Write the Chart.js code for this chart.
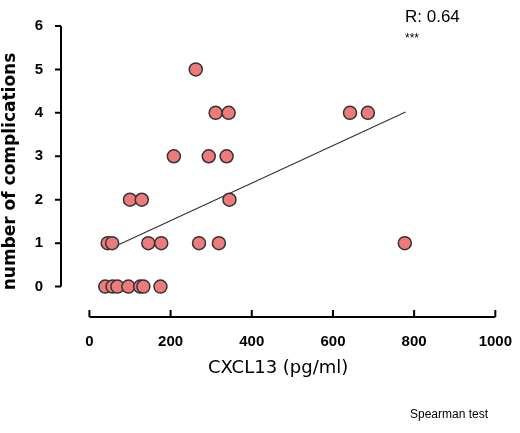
<!DOCTYPE html>
<html>
<head>
<script src="https://cdn.jsdelivr.net/npm/chart.js@4"></script>
<style>body{margin:0;background:#fff}#wrap{width:520px;height:433px;position:relative}</style>
</head>
<body>
<div id="wrap"><canvas id="c" width="520" height="433"></canvas></div>
<script>
const cxcl13 = [39, 57, 69, 96, 125, 133, 175, 45, 56, 145, 177, 270, 319, 777, 100, 129, 345, 208, 294, 338, 311, 343, 642, 686, 262];
const complications = [0, 0, 0, 0, 0, 0, 0, 1, 1, 1, 1, 1, 1, 1, 2, 2, 2, 3, 3, 3, 4, 4, 4, 4, 5];
const fitX = [45, 779];
const fitY = [0.85, 4.02];
const xTicks = [0, 200, 400, 600, 800, 1000];
const yTicks = [0, 1, 2, 3, 4, 5, 6];

const points = cxcl13.map((v, i) => ({x: v, y: complications[i]}));
const fit = fitX.map((v, i) => ({x: v, y: fitY[i]}));

// prism-style detached axes
const axesPlugin = {
    id: 'axes',
    afterDraw(chart) {
        const ctx = chart.ctx, x = chart.scales.x, y = chart.scales.y;
        const ax = chart.chartArea.left, ay = chart.chartArea.bottom;
        ctx.save();
        ctx.strokeStyle = '#000';
        ctx.lineWidth = 2;
        ctx.beginPath();
        ctx.moveTo(ax, y.getPixelForValue(0));
        ctx.lineTo(ax, y.getPixelForValue(6));
        yTicks.forEach(t => { ctx.moveTo(ax, y.getPixelForValue(t)); ctx.lineTo(ax - 6, y.getPixelForValue(t)); });
        ctx.moveTo(x.getPixelForValue(0), ay);
        ctx.lineTo(x.getPixelForValue(1000), ay);
        xTicks.forEach(t => { ctx.moveTo(x.getPixelForValue(t), ay); ctx.lineTo(x.getPixelForValue(t), ay - 7); });
        ctx.stroke();
        ctx.fillStyle = '#000';
        ctx.font = '17px "Liberation Sans", Arial';
        ctx.fillText('R: 0.64', 405, 22);
        ctx.font = '12px "Liberation Sans", Arial';
        ctx.fillText('***', 405, 42);
        ctx.fillText('Spearman test', 410, 418);
        ctx.restore();
    }
};

const tickFont = {size: 15, weight: 'bold', family: '"Liberation Sans", Arial'};

new Chart(document.getElementById('c'), {
    type: 'scatter',
    data: {
        datasets: [{
            data: points,
            backgroundColor: '#ee7b7b',
            borderColor: '#333',
            borderWidth: 1.5,
            pointRadius: 6.5
        }, {
            type: 'line',
            data: fit,
            borderColor: '#333',
            borderWidth: 1.2,
            pointRadius: 0,
            fill: false
        }]
    },
    options: {
        responsive: false,
        animation: false,
        layout: {padding: {top: 26, right: 23, left: 0, bottom: 50}},
        plugins: {legend: {display: false}, tooltip: {enabled: false}},
        scales: {
            x: {
                type: 'linear', min: -70, max: 1000,
                grid: {display: false}, border: {display: false},
                afterBuildTicks: s => { s.ticks = xTicks.map(v => ({value: v})); },
                afterFit: s => { s.height = 66; },
                ticks: {color: '#000', padding: 8, font: tickFont, callback: v => String(v)},
                title: {display: true, text: 'CXCL13 (pg/ml)', color: '#000', padding: {top: 4}, font: {size: 18, family: '"DejaVu Sans"'}}
            },
            y: {
                type: 'linear', min: -0.7, max: 6,
                grid: {display: false}, border: {display: false},
                afterBuildTicks: s => { s.ticks = yTicks.map(v => ({value: v})); },
                afterFit: s => { s.width = 61; },
                ticks: {color: '#000', padding: 10, font: tickFont},
                title: {display: true, text: 'number of complications', color: '#000', padding: 0, font: {size: 17, weight: 'bold', family: '"DejaVu Sans"'}}
            }
        }
    },
    plugins: [axesPlugin]
});
</script>
</body>
</html>
